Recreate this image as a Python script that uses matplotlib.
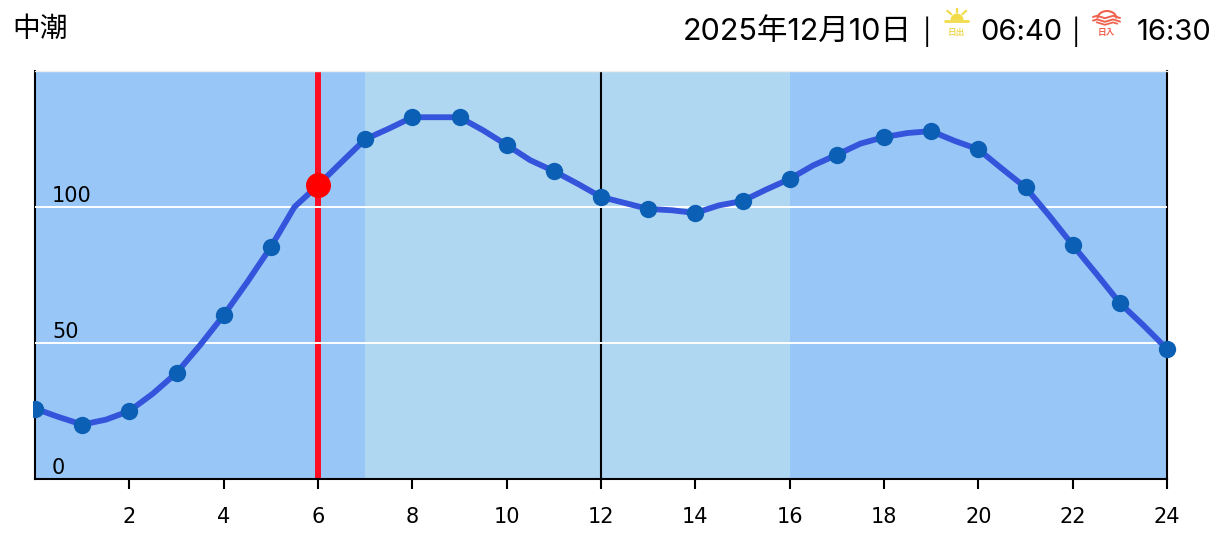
import matplotlib
matplotlib.use("Agg")
import matplotlib.pyplot as plt
from matplotlib.patches import Arc, Rectangle, Wedge

plt.rcParams['font.family'] = ['DejaVu Sans']
jp_font = ['Noto Sans CJK JP', 'DejaVu Sans']
head_font = ['Inter', 'Noto Sans CJK JP']

# Tide level, read every half hour
line_hours = [0, 0.5, 1, 1.5, 2, 2.5, 3, 3.5, 4, 4.5, 5, 5.5, 6, 6.5, 7, 7.5, 8, 8.5,
              9, 9.5, 10, 10.5, 11, 11.5, 12, 12.5, 13, 13.5, 14, 14.5, 15, 15.5, 16, 16.5,
              17, 17.5, 18, 18.5, 19, 19.5, 20, 20.5, 21, 21.5, 22, 22.5, 23, 23.5, 24]
line_values = [25.9, 22.8, 20.0, 21.8, 25.0, 31.4, 39.0, 49.2, 60.2, 72.4, 85.3, 100.0, 108.0, 116.5, 124.9, 128.8, 133.0, 133.0,
               133.0, 128.2, 122.8, 117.2, 113.2, 108.6, 103.7, 101.5, 99.3, 98.8, 97.8, 100.6, 102.2, 106.4, 110.3, 115.3,
               119.2, 123.3, 125.7, 127.2, 127.9, 124.3, 121.2, 114.1, 107.2, 96.9, 86.0, 75.5, 64.7, 56.5, 47.8]

# Hourly dots
dot_hours = [0, 1, 2, 3, 4, 5, 7, 8, 9, 10, 11, 12, 13, 14, 15, 16, 17, 18, 19, 20, 21, 22, 23, 24]
dot_values = [25.9, 20.0, 25.0, 39.0, 60.2, 85.3, 124.9, 133.0, 133.0, 122.8, 113.2, 103.7,
              99.3, 97.8, 102.2, 110.3, 119.2, 125.7, 127.9, 121.2, 107.2, 86.0, 64.7, 47.8]

now_hour = 6
now_value = 108.0
band_start = 7
band_end = 16
x_ticks = [2, 4, 6, 8, 10, 12, 14, 16, 18, 20, 22, 24]
y_labels = [0, 50, 100]
grid_levels = [50, 100]

title = "中潮"
date_text = "2025年12月10日"
sunrise = "06:40"
sunset = "16:30"

W, H = 1224, 551
fig = plt.figure(figsize=(W / 100, H / 100), dpi=100)

# Pixel overlay for the header
top = fig.add_axes([0, 0, 1, 1], zorder=5)
top.set_xlim(0, W)
top.set_ylim(H, 0)
top.axis('off')

ax = fig.add_axes([35 / W, 1 - 479 / H, (1167 - 35) / W, (479 - 71) / H], zorder=6)
ax.set_xlim(0, 24)
ax.set_ylim(0, 150)
ax.set_facecolor('#98c7f7')
ax.axvspan(band_start, band_end, color='#afd7f1', lw=0, zorder=1)

ax.axvline(12, color='black', lw=1.5, zorder=2)
ax.axvline(now_hour, color='#ff0d25', lw=4.3, zorder=2)
for level in grid_levels:
    ax.axhline(level, color='white', lw=1.4, zorder=3)

ax.plot(line_hours, line_values, color='#3554dc', lw=4.2, zorder=4,
        solid_joinstyle='round', solid_capstyle='round')
dots, = ax.plot(dot_hours, dot_values, 'o', color='#0b60b5', ms=12.5, mew=0, zorder=5, clip_on=True)
dots.set_clip_path(Rectangle((33, 0), W, H, transform=top.transData))
red, = ax.plot([now_hour], [now_value], 'o', color='#ff0000', ms=18, mew=0, zorder=6)

for level in y_labels:
    ax.annotate(str(level), (0, level), xytext=(17, 1), textcoords='offset pixels',
                fontsize=15, va='bottom', ha='left', color='black', zorder=7)

ax.set_xticks(x_ticks)
ax.set_xticklabels([str(t) for t in x_ticks], fontsize=15)
ax.set_yticks([])
ax.tick_params(axis='x', length=7, width=1.5, pad=13, color='black')
for side in ['left', 'right', 'bottom']:
    ax.spines[side].set_linewidth(1.5)
ax.spines['top'].set_color('#eeeeee')
ax.spines['top'].set_linewidth(1)

# Header text
top.text(12, 29, title, fontsize=20, family=jp_font, va='center', ha='left')
top.text(912, 32, date_text, fontsize=22, family=head_font, va='center', ha='right')
top.text(927, 32, "|", fontsize=18, family=head_font, va='center', ha='center')
top.text(1062, 32, sunrise, fontsize=21, family=head_font, va='center', ha='right')
top.text(1076, 32, "|", fontsize=18, family=head_font, va='center', ha='center')
top.text(1211, 32, sunset, fontsize=21, family=head_font, va='center', ha='right')

# Sunrise icon
yellow = '#f2dc4b'
top.plot([945, 968], [20.5, 20.5], color=yellow, lw=2, solid_capstyle='round')
top.add_patch(Wedge((957, 20), 6.5, 180, 360, color=yellow, lw=0))
top.plot([957, 957], [8.5, 11.5], color=yellow, lw=1.6)
top.plot([947.5, 951], [11, 14], color=yellow, lw=1.6)
top.plot([966, 962.5], [11, 14], color=yellow, lw=1.6)
top.text(956.5, 33, "日出", fontsize=6.2, family=jp_font, color='#efd95c', weight='bold', va='center', ha='center')

# Sunset icon
coral = '#ee6350'
top.add_patch(Arc((1107, 18.5), 19, 15, theta1=180, theta2=360, color=coral, lw=1.5))
wave_x = [1093, 1097, 1101, 1105, 1109, 1113, 1117, 1120]
wave_y = [17, 15.8, 17, 18.2, 17, 15.8, 17, 18]
for shift in [0, 3.6]:
    top.plot(wave_x, [v + shift for v in wave_y], color=coral, lw=1.4, solid_capstyle='round')
top.plot(wave_x[1:-1], [v + 6.6 for v in wave_y[1:-1]], color=coral, lw=1.3)
top.text(1106.5, 32.5, "日入", fontsize=6.2, family=jp_font, color=coral, weight='bold', va='center', ha='center')

fig.savefig('out.png', dpi=100)
